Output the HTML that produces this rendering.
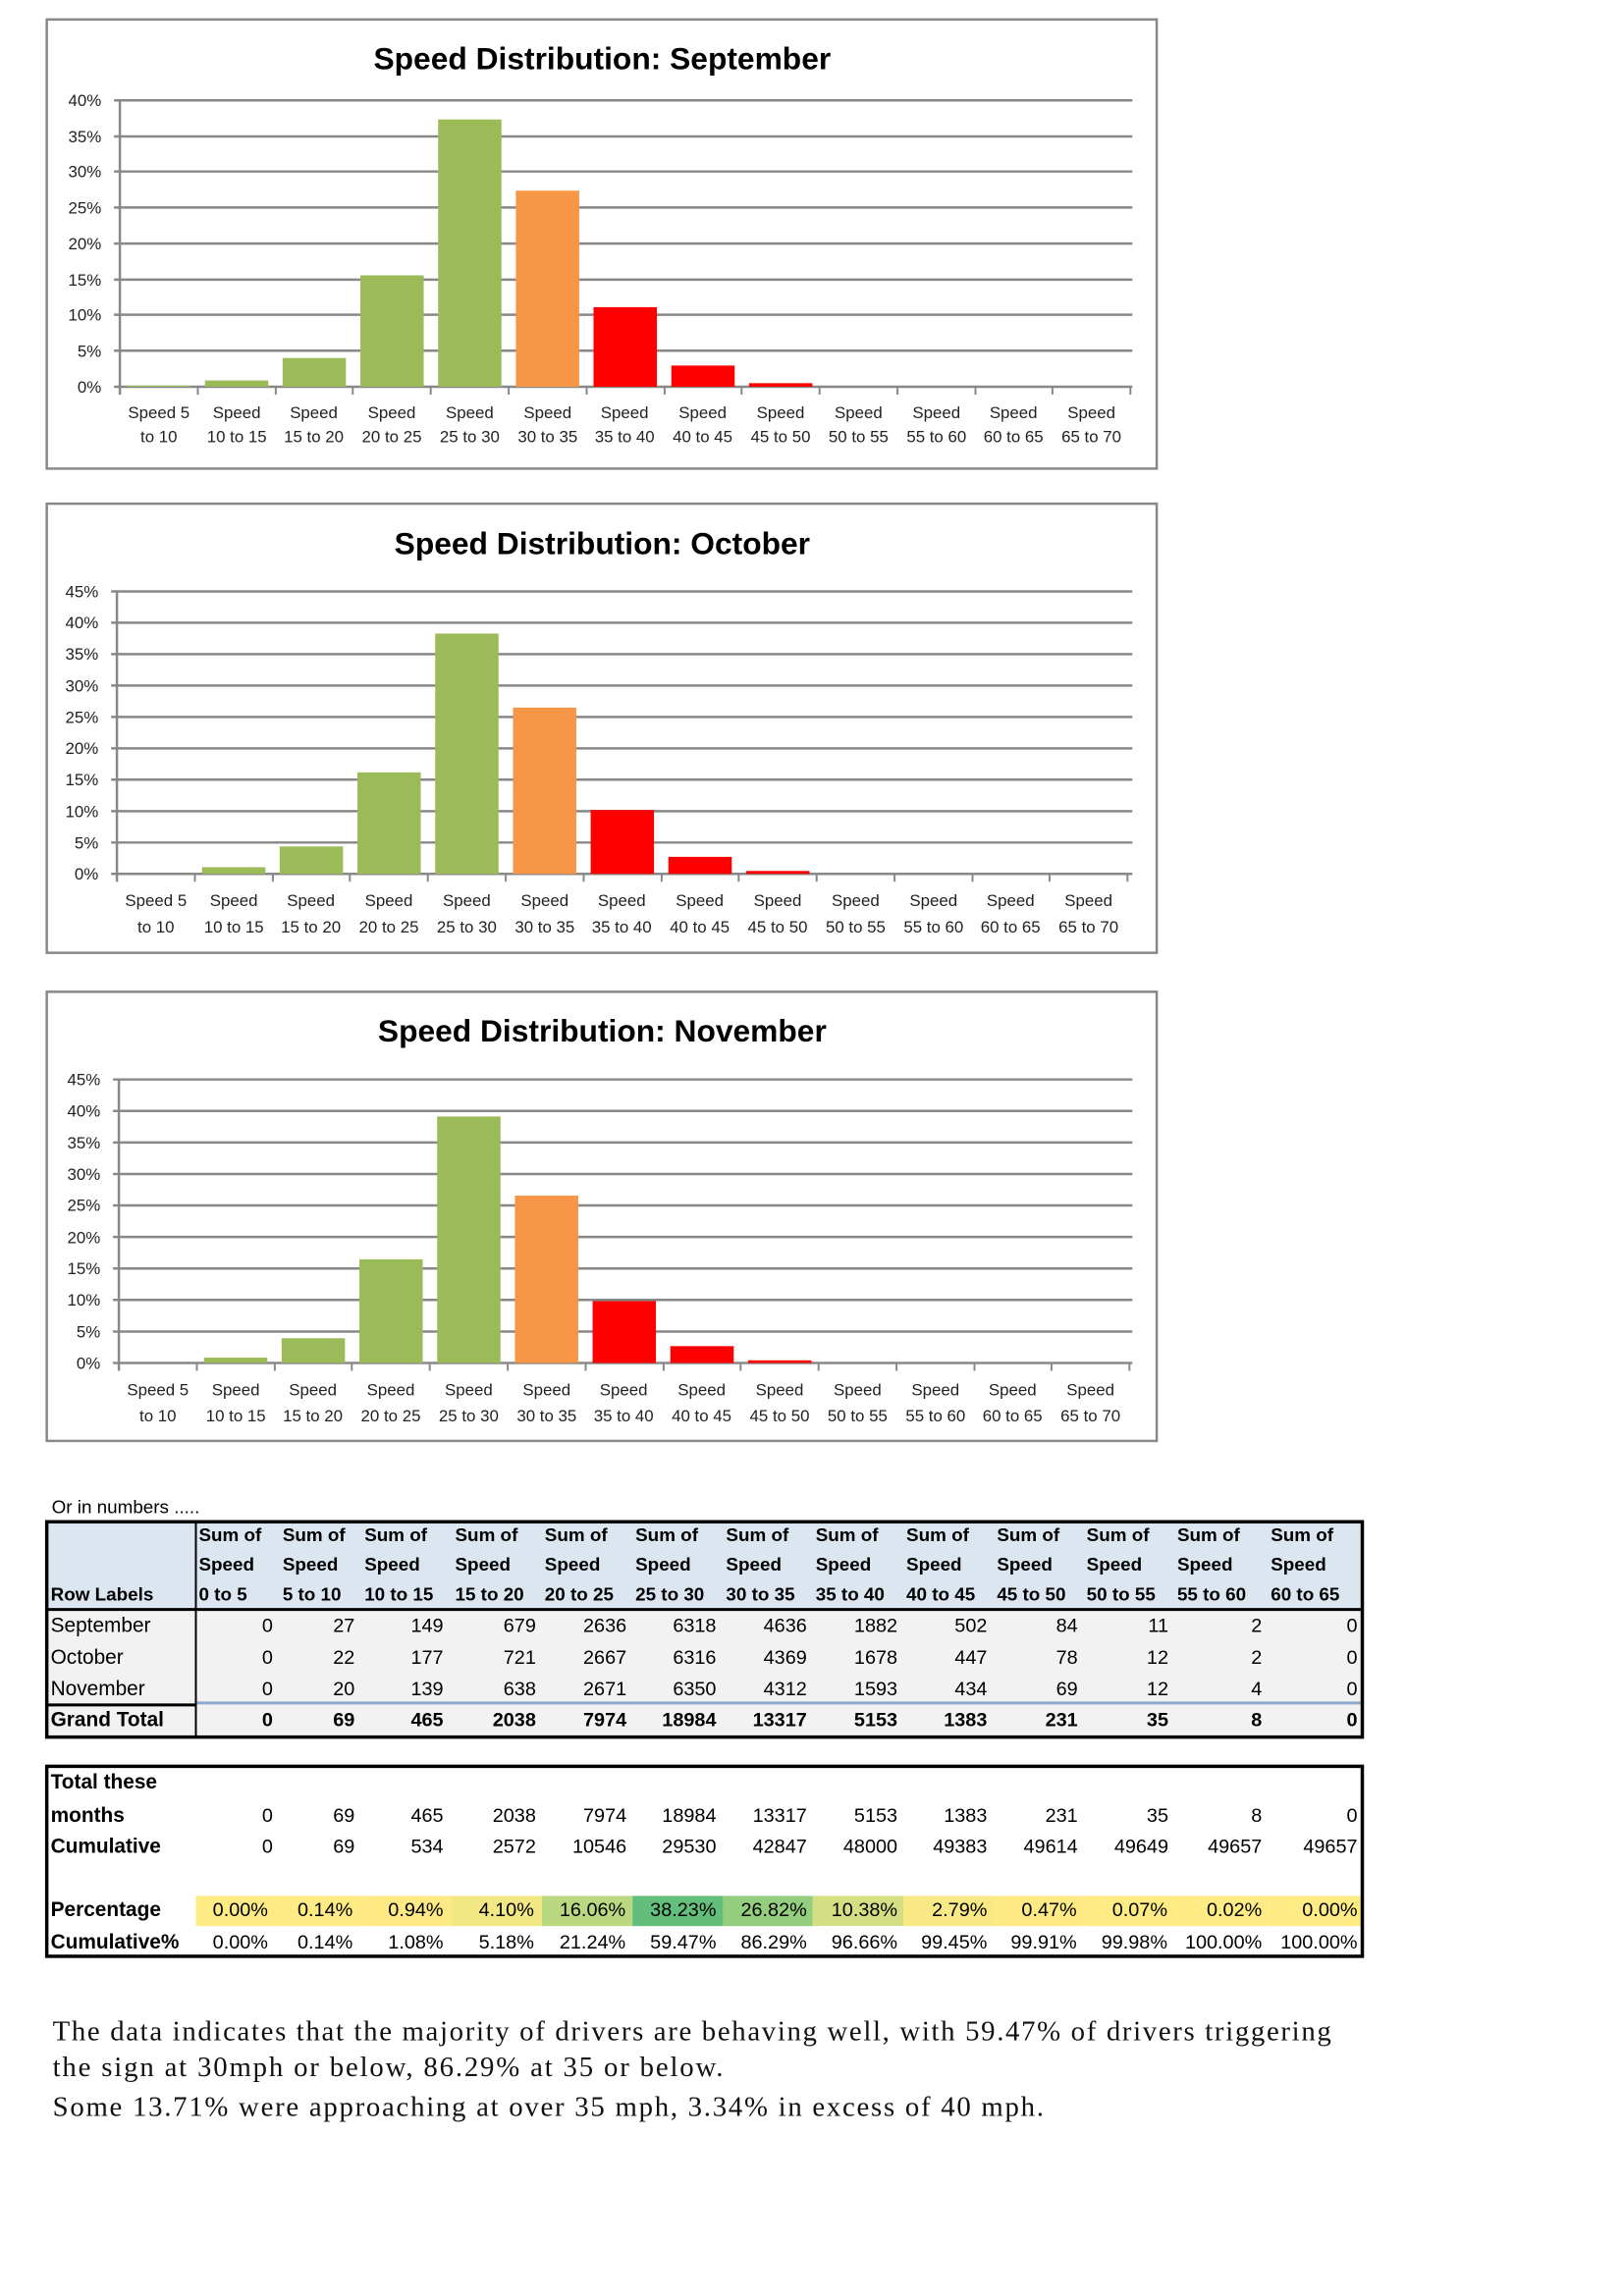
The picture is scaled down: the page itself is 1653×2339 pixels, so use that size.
<!DOCTYPE html>
<html><head><meta charset="utf-8"><style>
html,body{margin:0;padding:0;background:#fff;}
svg{display:block;}
text{font-family:"Liberation Sans",sans-serif;}
.t{font-size:32px;font-weight:bold;text-anchor:middle;}
.yl{font-size:17px;text-anchor:end;fill:#222;}
.xl{font-size:17px;text-anchor:middle;fill:#222;}
.g{stroke:#888;stroke-width:2.5;}
.h{font-size:19px;font-weight:bold;}
.d{font-size:20px;text-anchor:end;}
.db{font-size:20px;text-anchor:end;font-weight:bold;}
.lb{font-size:21px;}
.lbb{font-size:21px;font-weight:bold;}
.p{font-family:"Liberation Serif",serif;font-size:29px;fill:#111;}
</style></head><body>
<svg width="1653" height="2339" viewBox="0 0 1653 2339" xmlns="http://www.w3.org/2000/svg">
<rect width="1653" height="2339" fill="#fff"/>
<g transform="scale(0.9925)">

<!-- ================= CHART 1 ================= -->
<rect x="48" y="20" width="1139" height="461" fill="#fff" stroke="#888" stroke-width="2.5"/>
<text class="t" x="618" y="71">Speed Distribution: September</text>
<g>
<line class="g" x1="117" y1="103" x2="1162" y2="103"/>
<line class="g" x1="117" y1="140" x2="1162" y2="140"/>
<line class="g" x1="117" y1="176" x2="1162" y2="176"/>
<line class="g" x1="117" y1="213" x2="1162" y2="213"/>
<line class="g" x1="117" y1="250" x2="1162" y2="250"/>
<line class="g" x1="117" y1="287" x2="1162" y2="287"/>
<line class="g" x1="117" y1="323" x2="1162" y2="323"/>
<line class="g" x1="117" y1="360" x2="1162" y2="360"/>
<line class="g" x1="117" y1="397" x2="1162" y2="397"/>
<line class="g" x1="123" y1="103" x2="123" y2="405"/>
<text class="yl" x="104" y="109">40%</text><text class="yl" x="104" y="146">35%</text><text class="yl" x="104" y="182">30%</text>
<text class="yl" x="104" y="219">25%</text><text class="yl" x="104" y="256">20%</text><text class="yl" x="104" y="293">15%</text>
<text class="yl" x="104" y="329">10%</text><text class="yl" x="104" y="366">5%</text><text class="yl" x="104" y="403">0%</text>
<rect x="130.5" y="395.8" width="65" height="1.2" fill="#9BBB59"/>
<rect x="210.3" y="390.5" width="65" height="6.5" fill="#9BBB59"/>
<rect x="290" y="367.5" width="65" height="29.5" fill="#9BBB59"/>
<rect x="369.8" y="282.6" width="65" height="114.4" fill="#9BBB59"/>
<rect x="449.6" y="122.6" width="65" height="274.4" fill="#9BBB59"/>
<rect x="529.4" y="195.7" width="65" height="201.3" fill="#F79646"/>
<rect x="609.1" y="315.3" width="65" height="81.7" fill="#FF0000"/>
<rect x="688.9" y="375.2" width="65" height="21.8" fill="#FF0000"/>
<rect x="768.7" y="393.3" width="65" height="3.7" fill="#FF0000"/>
<path d="M203 397v8M283 397v8M362 397v8M442 397v8M522 397v8M602 397v8M682 397v8M761 397v8M841 397v8M921 397v8M1001 397v8M1080 397v8M1160 397v8" stroke="#888" stroke-width="2"/>
<text class="xl" x="163" y="429">Speed 5</text><text class="xl" x="163" y="454">to 10</text>
<text class="xl" x="243" y="429">Speed</text><text class="xl" x="243" y="454">10 to 15</text>
<text class="xl" x="322" y="429">Speed</text><text class="xl" x="322" y="454">15 to 20</text>
<text class="xl" x="402" y="429">Speed</text><text class="xl" x="402" y="454">20 to 25</text>
<text class="xl" x="482" y="429">Speed</text><text class="xl" x="482" y="454">25 to 30</text>
<text class="xl" x="562" y="429">Speed</text><text class="xl" x="562" y="454">30 to 35</text>
<text class="xl" x="641" y="429">Speed</text><text class="xl" x="641" y="454">35 to 40</text>
<text class="xl" x="721" y="429">Speed</text><text class="xl" x="721" y="454">40 to 45</text>
<text class="xl" x="801" y="429">Speed</text><text class="xl" x="801" y="454">45 to 50</text>
<text class="xl" x="881" y="429">Speed</text><text class="xl" x="881" y="454">50 to 55</text>
<text class="xl" x="961" y="429">Speed</text><text class="xl" x="961" y="454">55 to 60</text>
<text class="xl" x="1040" y="429">Speed</text><text class="xl" x="1040" y="454">60 to 65</text>
<text class="xl" x="1120" y="429">Speed</text><text class="xl" x="1120" y="454">65 to 70</text>
</g>

<!-- ================= CHART 2 ================= -->
<rect x="48" y="517" width="1139" height="461" fill="#fff" stroke="#888" stroke-width="2.5"/>
<text class="t" x="618" y="569">Speed Distribution: October</text>
<g transform="translate(-3,0)">
<line class="g" x1="117" y1="607" x2="1165" y2="607"/>
<line class="g" x1="117" y1="639.2" x2="1165" y2="639.2"/>
<line class="g" x1="117" y1="671.4" x2="1165" y2="671.4"/>
<line class="g" x1="117" y1="703.7" x2="1165" y2="703.7"/>
<line class="g" x1="117" y1="735.9" x2="1165" y2="735.9"/>
<line class="g" x1="117" y1="768.1" x2="1165" y2="768.1"/>
<line class="g" x1="117" y1="800.3" x2="1165" y2="800.3"/>
<line class="g" x1="117" y1="832.6" x2="1165" y2="832.6"/>
<line class="g" x1="117" y1="864.8" x2="1165" y2="864.8"/>
<line class="g" x1="117" y1="897" x2="1165" y2="897"/>
<line class="g" x1="123" y1="607" x2="123" y2="905"/>
<text class="yl" x="104" y="613">45%</text><text class="yl" x="104" y="645">40%</text><text class="yl" x="104" y="677">35%</text>
<text class="yl" x="104" y="710">30%</text><text class="yl" x="104" y="742">25%</text><text class="yl" x="104" y="774">20%</text>
<text class="yl" x="104" y="806">15%</text><text class="yl" x="104" y="839">10%</text><text class="yl" x="104" y="871">5%</text><text class="yl" x="104" y="903">0%</text>
<rect x="210.3" y="890.1" width="65" height="6.9" fill="#9BBB59"/>
<rect x="290" y="868.8" width="65" height="28.2" fill="#9BBB59"/>
<rect x="369.8" y="792.8" width="65" height="104.2" fill="#9BBB59"/>
<rect x="449.6" y="650.3" width="65" height="246.7" fill="#9BBB59"/>
<rect x="529.4" y="726.3" width="65" height="170.7" fill="#F79646"/>
<rect x="609.1" y="831.4" width="65" height="65.6" fill="#FF0000"/>
<rect x="688.9" y="879.5" width="65" height="17.5" fill="#FF0000"/>
<rect x="768.7" y="894" width="65" height="3" fill="#FF0000"/>
<path d="M203 897v8M283 897v8M362 897v8M442 897v8M522 897v8M602 897v8M682 897v8M761 897v8M841 897v8M921 897v8M1001 897v8M1080 897v8M1160 897v8" stroke="#888" stroke-width="2"/>
<text class="xl" x="163" y="930">Speed 5</text><text class="xl" x="163" y="957">to 10</text>
<text class="xl" x="243" y="930">Speed</text><text class="xl" x="243" y="957">10 to 15</text>
<text class="xl" x="322" y="930">Speed</text><text class="xl" x="322" y="957">15 to 20</text>
<text class="xl" x="402" y="930">Speed</text><text class="xl" x="402" y="957">20 to 25</text>
<text class="xl" x="482" y="930">Speed</text><text class="xl" x="482" y="957">25 to 30</text>
<text class="xl" x="562" y="930">Speed</text><text class="xl" x="562" y="957">30 to 35</text>
<text class="xl" x="641" y="930">Speed</text><text class="xl" x="641" y="957">35 to 40</text>
<text class="xl" x="721" y="930">Speed</text><text class="xl" x="721" y="957">40 to 45</text>
<text class="xl" x="801" y="930">Speed</text><text class="xl" x="801" y="957">45 to 50</text>
<text class="xl" x="881" y="930">Speed</text><text class="xl" x="881" y="957">50 to 55</text>
<text class="xl" x="961" y="930">Speed</text><text class="xl" x="961" y="957">55 to 60</text>
<text class="xl" x="1040" y="930">Speed</text><text class="xl" x="1040" y="957">60 to 65</text>
<text class="xl" x="1120" y="930">Speed</text><text class="xl" x="1120" y="957">65 to 70</text>
</g>

<!-- ================= CHART 3 ================= -->
<rect x="48" y="1018" width="1139" height="461" fill="#fff" stroke="#888" stroke-width="2.5"/>
<text class="t" x="618" y="1069">Speed Distribution: November</text>
<g transform="translate(-1,0)">
<line class="g" x1="117" y1="1108" x2="1163" y2="1108"/>
<line class="g" x1="117" y1="1140.3" x2="1163" y2="1140.3"/>
<line class="g" x1="117" y1="1172.7" x2="1163" y2="1172.7"/>
<line class="g" x1="117" y1="1205" x2="1163" y2="1205"/>
<line class="g" x1="117" y1="1237.3" x2="1163" y2="1237.3"/>
<line class="g" x1="117" y1="1269.7" x2="1163" y2="1269.7"/>
<line class="g" x1="117" y1="1302" x2="1163" y2="1302"/>
<line class="g" x1="117" y1="1334.3" x2="1163" y2="1334.3"/>
<line class="g" x1="117" y1="1366.7" x2="1163" y2="1366.7"/>
<line class="g" x1="117" y1="1399" x2="1163" y2="1399"/>
<line class="g" x1="123" y1="1108" x2="123" y2="1407"/>
<text class="yl" x="104" y="1114">45%</text><text class="yl" x="104" y="1146">40%</text><text class="yl" x="104" y="1179">35%</text>
<text class="yl" x="104" y="1211">30%</text><text class="yl" x="104" y="1243">25%</text><text class="yl" x="104" y="1276">20%</text>
<text class="yl" x="104" y="1308">15%</text><text class="yl" x="104" y="1340">10%</text><text class="yl" x="104" y="1373">5%</text><text class="yl" x="104" y="1405">0%</text>
<rect x="210.3" y="1393.5" width="65" height="5.5" fill="#9BBB59"/>
<rect x="290" y="1373.6" width="65" height="25.4" fill="#9BBB59"/>
<rect x="369.8" y="1292.6" width="65" height="106.4" fill="#9BBB59"/>
<rect x="449.6" y="1146" width="65" height="253" fill="#9BBB59"/>
<rect x="529.4" y="1227.2" width="65" height="171.8" fill="#F79646"/>
<rect x="609.1" y="1335.5" width="65" height="63.5" fill="#FF0000"/>
<rect x="688.9" y="1381.7" width="65" height="17.3" fill="#FF0000"/>
<rect x="768.7" y="1396.3" width="65" height="2.7" fill="#FF0000"/>
<path d="M203 1399v8M283 1399v8M362 1399v8M442 1399v8M522 1399v8M602 1399v8M682 1399v8M761 1399v8M841 1399v8M921 1399v8M1001 1399v8M1080 1399v8M1160 1399v8" stroke="#888" stroke-width="2"/>
<text class="xl" x="163" y="1432">Speed 5</text><text class="xl" x="163" y="1459">to 10</text>
<text class="xl" x="243" y="1432">Speed</text><text class="xl" x="243" y="1459">10 to 15</text>
<text class="xl" x="322" y="1432">Speed</text><text class="xl" x="322" y="1459">15 to 20</text>
<text class="xl" x="402" y="1432">Speed</text><text class="xl" x="402" y="1459">20 to 25</text>
<text class="xl" x="482" y="1432">Speed</text><text class="xl" x="482" y="1459">25 to 30</text>
<text class="xl" x="562" y="1432">Speed</text><text class="xl" x="562" y="1459">30 to 35</text>
<text class="xl" x="641" y="1432">Speed</text><text class="xl" x="641" y="1459">35 to 40</text>
<text class="xl" x="721" y="1432">Speed</text><text class="xl" x="721" y="1459">40 to 45</text>
<text class="xl" x="801" y="1432">Speed</text><text class="xl" x="801" y="1459">45 to 50</text>
<text class="xl" x="881" y="1432">Speed</text><text class="xl" x="881" y="1459">50 to 55</text>
<text class="xl" x="961" y="1432">Speed</text><text class="xl" x="961" y="1459">55 to 60</text>
<text class="xl" x="1040" y="1432">Speed</text><text class="xl" x="1040" y="1459">60 to 65</text>
<text class="xl" x="1120" y="1432">Speed</text><text class="xl" x="1120" y="1459">65 to 70</text>
</g>

<!-- ================= TABLE 1 ================= -->
<text x="53" y="1553" style="font-size:19px">Or in numbers .....</text>
<rect x="48" y="1562" width="1350" height="90" fill="#DCE6F1"/>
<rect x="48" y="1652" width="1350" height="131" fill="#F2F2F2"/>
<line x1="201" y1="1748" x2="1398" y2="1748" stroke="#8EAACB" stroke-width="3"/>
<line x1="48" y1="1652" x2="1398" y2="1652" stroke="#000" stroke-width="3"/>
<line x1="48" y1="1750" x2="201" y2="1750" stroke="#000" stroke-width="3"/>
<line x1="201" y1="1562" x2="201" y2="1783" stroke="#000" stroke-width="2"/>
<rect x="48" y="1562" width="1350" height="221" fill="none" stroke="#000" stroke-width="3.5"/>
<g class="h">
<text x="204" y="1582">Sum of</text><text x="204" y="1612">Speed</text><text x="204" y="1643">0 to 5</text>
<text x="290" y="1582">Sum of</text><text x="290" y="1612">Speed</text><text x="290" y="1643">5 to 10</text>
<text x="374" y="1582">Sum of</text><text x="374" y="1612">Speed</text><text x="374" y="1643">10 to 15</text>
<text x="467" y="1582">Sum of</text><text x="467" y="1612">Speed</text><text x="467" y="1643">15 to 20</text>
<text x="559" y="1582">Sum of</text><text x="559" y="1612">Speed</text><text x="559" y="1643">20 to 25</text>
<text x="652" y="1582">Sum of</text><text x="652" y="1612">Speed</text><text x="652" y="1643">25 to 30</text>
<text x="745" y="1582">Sum of</text><text x="745" y="1612">Speed</text><text x="745" y="1643">30 to 35</text>
<text x="837" y="1582">Sum of</text><text x="837" y="1612">Speed</text><text x="837" y="1643">35 to 40</text>
<text x="930" y="1582">Sum of</text><text x="930" y="1612">Speed</text><text x="930" y="1643">40 to 45</text>
<text x="1023" y="1582">Sum of</text><text x="1023" y="1612">Speed</text><text x="1023" y="1643">45 to 50</text>
<text x="1115" y="1582">Sum of</text><text x="1115" y="1612">Speed</text><text x="1115" y="1643">50 to 55</text>
<text x="1208" y="1582">Sum of</text><text x="1208" y="1612">Speed</text><text x="1208" y="1643">55 to 60</text>
<text x="1304" y="1582">Sum of</text><text x="1304" y="1612">Speed</text><text x="1304" y="1643">60 to 65</text>
<text x="52" y="1643">Row Labels</text>
</g>
<text class="lb" x="52" y="1675">September</text>
<text class="lb" x="52" y="1708">October</text>
<text class="lb" x="52" y="1740">November</text>
<text class="lbb" x="52" y="1772">Grand Total</text>
<g class="d">
<text x="280" y="1675">0</text><text x="364" y="1675">27</text><text x="455" y="1675">149</text><text x="550" y="1675">679</text><text x="643" y="1675">2636</text><text x="735" y="1675">6318</text><text x="828" y="1675">4636</text><text x="921" y="1675">1882</text><text x="1013" y="1675">502</text><text x="1106" y="1675">84</text><text x="1199" y="1675">11</text><text x="1295" y="1675">2</text><text x="1393" y="1675">0</text>
<text x="280" y="1708">0</text><text x="364" y="1708">22</text><text x="455" y="1708">177</text><text x="550" y="1708">721</text><text x="643" y="1708">2667</text><text x="735" y="1708">6316</text><text x="828" y="1708">4369</text><text x="921" y="1708">1678</text><text x="1013" y="1708">447</text><text x="1106" y="1708">78</text><text x="1199" y="1708">12</text><text x="1295" y="1708">2</text><text x="1393" y="1708">0</text>
<text x="280" y="1740">0</text><text x="364" y="1740">20</text><text x="455" y="1740">139</text><text x="550" y="1740">638</text><text x="643" y="1740">2671</text><text x="735" y="1740">6350</text><text x="828" y="1740">4312</text><text x="921" y="1740">1593</text><text x="1013" y="1740">434</text><text x="1106" y="1740">69</text><text x="1199" y="1740">12</text><text x="1295" y="1740">4</text><text x="1393" y="1740">0</text>
</g>
<g class="db">
<text x="280" y="1772">0</text><text x="364" y="1772">69</text><text x="455" y="1772">465</text><text x="550" y="1772">2038</text><text x="643" y="1772">7974</text><text x="735" y="1772">18984</text><text x="828" y="1772">13317</text><text x="921" y="1772">5153</text><text x="1013" y="1772">1383</text><text x="1106" y="1772">231</text><text x="1199" y="1772">35</text><text x="1295" y="1772">8</text><text x="1393" y="1772">0</text>
</g>

<!-- ================= TABLE 2 ================= -->
<rect x="201" y="1946" width="86" height="31" fill="#FFEB84"/>
<rect x="287" y="1946" width="84" height="31" fill="#FFEB84"/>
<rect x="371" y="1946" width="93" height="31" fill="#FDEA84"/>
<rect x="464" y="1946" width="92" height="31" fill="#F1E783"/>
<rect x="556" y="1946" width="93" height="31" fill="#B9D880"/>
<rect x="649" y="1946" width="93" height="31" fill="#63BE7B"/>
<rect x="742" y="1946" width="92" height="31" fill="#94CD7E"/>
<rect x="834" y="1946" width="93" height="31" fill="#D3DF82"/>
<rect x="927" y="1946" width="93" height="31" fill="#F8E984"/>
<rect x="1020" y="1946" width="92" height="31" fill="#FEEA84"/>
<rect x="1112" y="1946" width="93" height="31" fill="#FFEB84"/>
<rect x="1205" y="1946" width="96" height="31" fill="#FFEB84"/>
<rect x="1301" y="1946" width="97" height="31" fill="#FFEB84"/>
<rect x="48" y="1813" width="1350" height="195" fill="none" stroke="#000" stroke-width="3.5"/>
<text class="lbb" x="52" y="1836">Total these</text>
<text class="lbb" x="52" y="1870">months</text>
<text class="lbb" x="52" y="1902">Cumulative</text>
<text class="lbb" x="52" y="1967">Percentage</text>
<text class="lbb" x="52" y="2000">Cumulative%</text>
<g class="d">
<text x="280" y="1870">0</text><text x="364" y="1870">69</text><text x="455" y="1870">465</text><text x="550" y="1870">2038</text><text x="643" y="1870">7974</text><text x="735" y="1870">18984</text><text x="828" y="1870">13317</text><text x="921" y="1870">5153</text><text x="1013" y="1870">1383</text><text x="1106" y="1870">231</text><text x="1199" y="1870">35</text><text x="1295" y="1870">8</text><text x="1393" y="1870">0</text>
<text x="280" y="1902">0</text><text x="364" y="1902">69</text><text x="455" y="1902">534</text><text x="550" y="1902">2572</text><text x="643" y="1902">10546</text><text x="735" y="1902">29530</text><text x="828" y="1902">42847</text><text x="921" y="1902">48000</text><text x="1013" y="1902">49383</text><text x="1106" y="1902">49614</text><text x="1199" y="1902">49649</text><text x="1295" y="1902">49657</text><text x="1393" y="1902">49657</text>
<text x="275" y="1967">0.00%</text><text x="362" y="1967">0.14%</text><text x="455" y="1967">0.94%</text><text x="548" y="1967">4.10%</text><text x="642" y="1967">16.06%</text><text x="735" y="1967">38.23%</text><text x="828" y="1967">26.82%</text><text x="921" y="1967">10.38%</text><text x="1013" y="1967">2.79%</text><text x="1105" y="1967">0.47%</text><text x="1198" y="1967">0.07%</text><text x="1295" y="1967">0.02%</text><text x="1393" y="1967">0.00%</text>
<text x="275" y="2000">0.00%</text><text x="362" y="2000">0.14%</text><text x="455" y="2000">1.08%</text><text x="548" y="2000">5.18%</text><text x="642" y="2000">21.24%</text><text x="735" y="2000">59.47%</text><text x="828" y="2000">86.29%</text><text x="921" y="2000">96.66%</text><text x="1013" y="2000">99.45%</text><text x="1105" y="2000">99.91%</text><text x="1198" y="2000">99.98%</text><text x="1295" y="2000">100.00%</text><text x="1393" y="2000">100.00%</text>
</g>

<!-- ================= PARAGRAPH ================= -->
<text class="p" x="54" y="2094" textLength="1312" lengthAdjust="spacing">The data indicates that the majority of drivers are behaving well, with 59.47% of drivers triggering</text>
<text class="p" x="54" y="2131" textLength="688" lengthAdjust="spacing">the sign at 30mph or below, 86.29% at 35 or below.</text>
<text class="p" x="54" y="2172" textLength="1017" lengthAdjust="spacing">Some 13.71% were approaching at over 35 mph, 3.34%  in excess of 40 mph.</text>
</g>
</svg>
</body></html>
